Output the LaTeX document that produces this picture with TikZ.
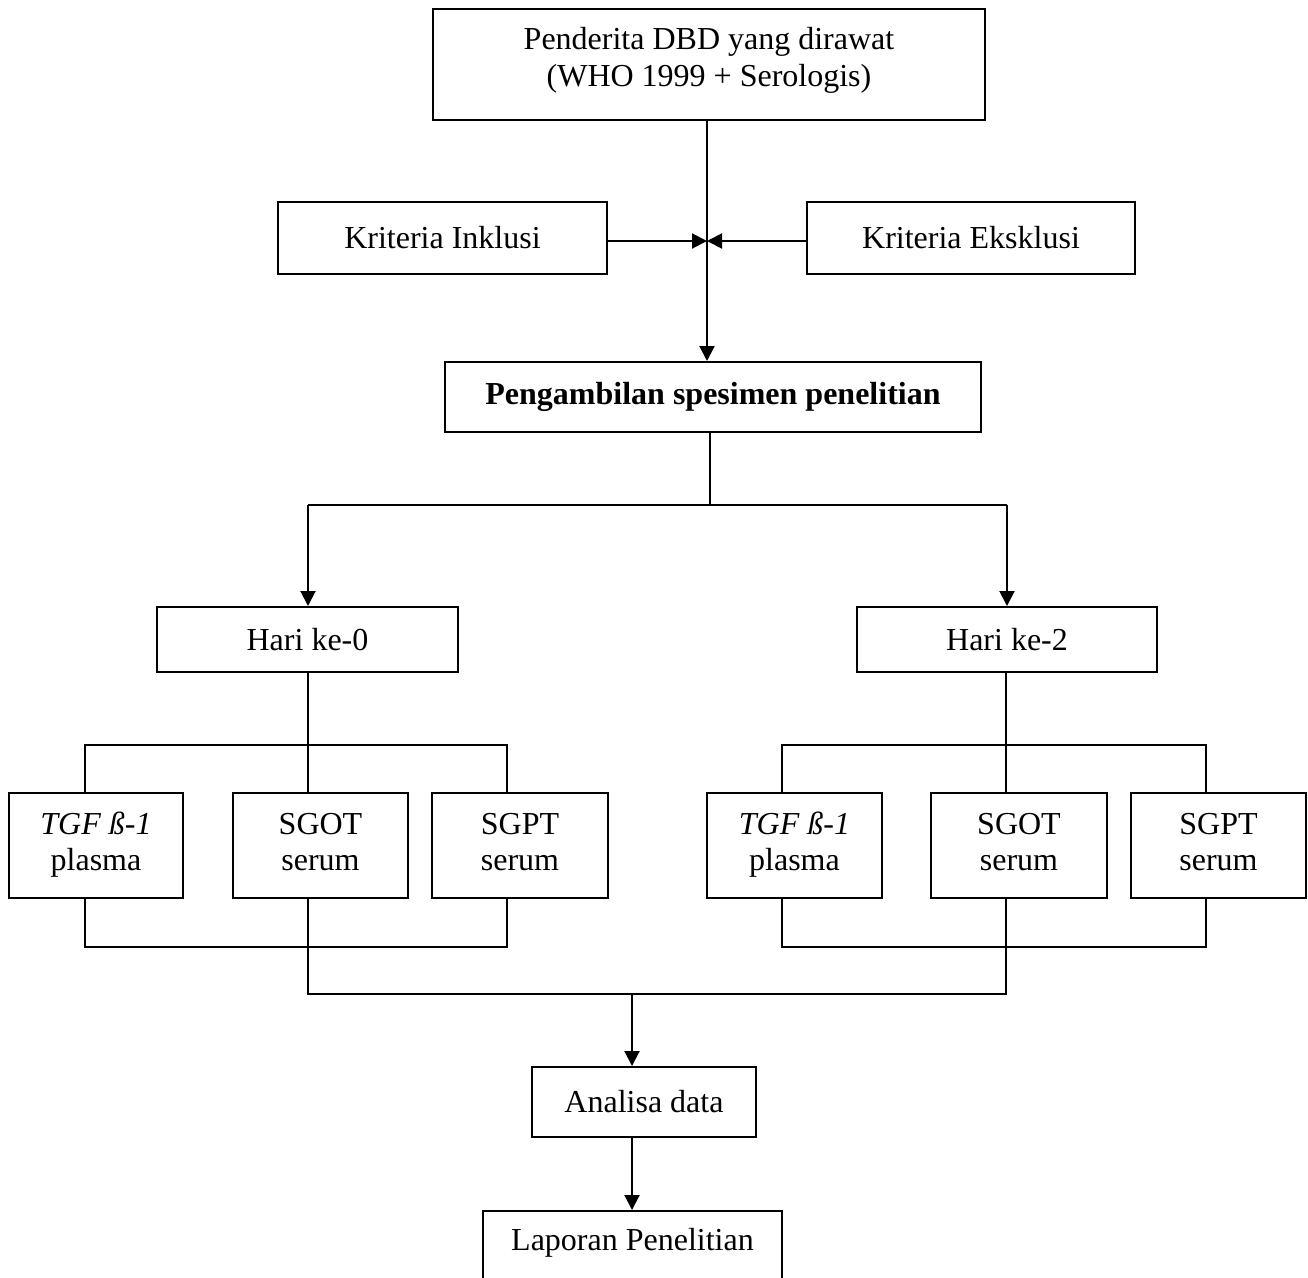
\documentclass[tikz,border=0pt]{standalone}
\usepackage{fontspec}
\setmainfont{Liberation Serif}
\usetikzlibrary{arrows.meta}
\begin{document}
\begin{tikzpicture}[x=1pt,y=-1pt,
  every node/.style={font=\fontsize{32}{36}\selectfont},
  box/.style={draw, line width=2pt, inner sep=0pt, align=center},
  two/.style={text height=58pt, text depth=8pt},
  conn/.style={line width=2pt},
  arr/.style={line width=2pt, -{Triangle[length=15pt,width=15pt]}}]
\useasboundingbox (0,0) rectangle (1308,1277);
\clip (0,0) rectangle (1308,1277);
% boxes
\node[box, minimum width=552pt, minimum height=111pt, text height=59pt, text depth=15pt, font=\fontsize{32}{37}\selectfont] (top) at (709,64.5) {Penderita DBD yang dirawat\\(WHO 1999 + Serologis)};
\node[box, minimum width=329pt, minimum height=72pt] (inkl) at (442.5,238) {Kriteria Inklusi};
\node[box, minimum width=328pt, minimum height=72pt] (eksk) at (971,238) {Kriteria Eksklusi};
\node[box, minimum width=536pt, minimum height=70pt, font=\fontsize{32}{36}\selectfont\bfseries] (peng) at (713,397) {Pengambilan spesimen penelitian};
\node[box, minimum width=301pt, minimum height=65pt] (hari0) at (307.5,639.5) {Hari ke-0};
\node[box, minimum width=300pt, minimum height=65pt] (hari2) at (1007,639.5) {Hari ke-2};
\node[box, two, minimum width=174pt, minimum height=105pt] (tgfL) at (96,845.5) {\textit{TGF ß-1}\\plasma};
\node[box, two, minimum width=175pt, minimum height=105pt] (sgotL) at (320.5,845.5) {SGOT\\serum};
\node[box, two, minimum width=176pt, minimum height=105pt] (sgptL) at (520,845.5) {SGPT\\serum};
\node[box, two, minimum width=175pt, minimum height=105pt] (tgfR) at (794.5,845.5) {\textit{TGF ß-1}\\plasma};
\node[box, two, minimum width=176pt, minimum height=105pt] (sgotR) at (1019,845.5) {SGOT\\serum};
\node[box, two, minimum width=175pt, minimum height=105pt] (sgptR) at (1218.5,845.5) {SGPT\\serum};
\node[box, minimum width=224pt, minimum height=70pt] (anal) at (644,1102) {Analisa data};
\node[box, minimum width=299pt, minimum height=100pt, text height=22pt, text depth=44pt] (lap) at (632.5,1261) {Laporan Penelitian};
% column coordinates
\coordinate (xT) at (707,0);
\coordinate (xP) at (710,0);
\coordinate (cL1) at (85,0);
\coordinate (cL2) at (308,0);
\coordinate (cL3) at (507,0);
\coordinate (cR1) at (782,0);
\coordinate (cR2) at (1006,0);
\coordinate (cR3) at (1206,0);
\coordinate (xA) at (632,0);
\coordinate (junc) at (707,241);
\coordinate (splitL) at (308,505);
\coordinate (splitR) at (1007,505);
\coordinate (bL) at (308,745);
\coordinate (bR) at (782,745);
\coordinate (bR2) at (1006,745);
\coordinate (mergeL) at (308,994);
\coordinate (mergeR) at (1006,994);
\coordinate (mergeA) at (632,994);
% connectors
\draw[arr] (top.south -| xT) -- (peng.north -| xT);
\draw[arr] (inkl.east |- junc) -- (junc);
\draw[arr] (eksk.west |- junc) -- (junc);
\draw[conn] (peng.south -| xP) -- (xP |- splitL);
\draw[conn] (splitL) -- (splitR);
\draw[arr] (splitL) -- (hari0.north -| splitL);
\draw[arr] (splitR) -- (hari2.north -| splitR);
% left group
\draw[conn] (hari0.south -| cL2) -- (bL);
\draw[conn] (tgfL.north -| cL1) -- (cL1 |- bL) -- (cL3 |- bL) -- (sgptL.north -| cL3);
\draw[conn] (sgotL.north -| cL2) -- (bL);
% right group
\draw[conn] (hari2.south -| cR2) -- (bR2);
\draw[conn] (tgfR.north -| cR1) -- (bR) -- (cR3 |- bR) -- (sgptR.north -| cR3);
\draw[conn] (sgotR.north -| cR2) -- (bR2);
% bottom brackets
\draw[conn] (tgfL.south -| cL1) -- (85,947) -- (507,947) -- (sgptL.south -| cL3);
\draw[conn] (tgfR.south -| cR1) -- (782,947) -- (1206,947) -- (sgptR.south -| cR3);
\draw[conn] (sgotL.south -| cL2) -- (mergeL) -- (mergeR) -- (sgotR.south -| cR2);
\draw[arr] (mergeA) -- (anal.north -| xA);
\draw[arr] (anal.south -| xA) -- (lap.north -| xA);
\end{tikzpicture}
\end{document}
